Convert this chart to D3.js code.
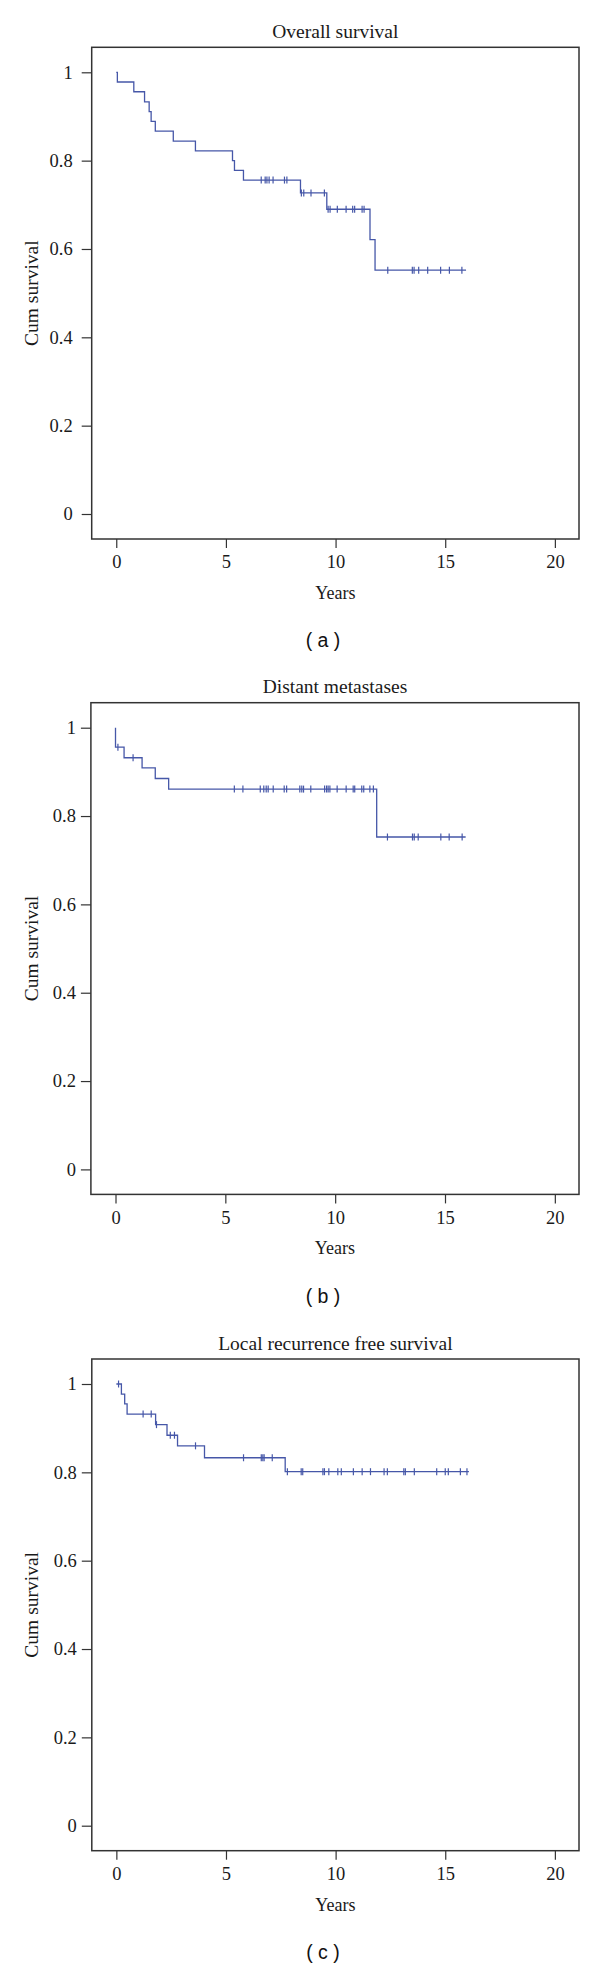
<!DOCTYPE html>
<html>
<head>
<meta charset="utf-8">
<script src="https://cdn.jsdelivr.net/npm/d3@7"></script>
<style>
  html, body { margin: 0; padding: 0; background: #fff; }
  svg { display: block; }
</style>
</head>
<body>
<svg id="chart" width="600" height="1968"></svg>
<script>
// ---------------- data ----------------
const xTicks = [0, 5, 10, 15, 20];
const yTicks = [0, 0.2, 0.4, 0.6, 0.8, 1];
const titles = ["Overall survival", "Distant metastases", "Local recurrence free survival"];
const panelLabels = ["( a )", "( b )", "( c )"];
const xLabel = "Years";
const yLabel = "Cum survival";

// (a) Overall survival
const osEventTimes = [0.05, 0.80, 1.29, 1.50, 1.59, 1.78, 2.60, 3.61, 5.30, 5.39, 5.80, 8.40, 9.60, 11.57, 11.80];
const osSurvival   = [0.978, 0.956, 0.933, 0.911, 0.889, 0.867, 0.844, 0.822, 0.800, 0.778, 0.756, 0.727, 0.690, 0.621, 0.552];
const osCensorTimes = [6.61, 6.79, 6.87, 6.97, 7.15, 7.67, 7.78, 8.44, 8.55, 8.88, 9.49, 9.66, 9.75, 10.08,
                       10.48, 10.78, 10.87, 11.21, 11.30, 12.38, 13.50, 13.58, 13.79, 14.20, 14.79, 15.19, 15.76];
const osEndTime = 15.95;

// (b) Distant metastases
const dmEventTimes = [0.0, 0.39, 1.21, 1.81, 2.42, 11.89];
const dmSurvival   = [0.956, 0.932, 0.909, 0.885, 0.861, 0.7525];
const dmCensorTimes = [0.11, 0.80, 5.41, 5.80, 6.59, 6.75, 6.86, 6.95, 7.18, 7.68, 7.79, 8.39, 8.48, 8.56, 8.89,
                       9.52, 9.61, 9.68, 9.76, 10.09, 10.50, 10.82, 10.89, 11.21, 11.30, 11.58, 11.74,
                       12.38, 13.52, 13.60, 13.78, 14.81, 15.19, 15.78];
const dmEndTime = 15.94;

// (c) Local recurrence free survival
const lrEventTimes = [0.23, 0.38, 0.49, 1.79, 2.31, 2.79, 4.02, 7.70];
const lrSurvival   = [0.977, 0.955, 0.932, 0.908, 0.884, 0.860, 0.833, 0.8015];
const lrCensorTimes = [0.10, 1.22, 1.59, 1.83, 2.46, 2.65, 3.61, 5.80, 6.61, 6.68, 6.74, 7.11, 7.80, 8.43, 8.50,
                       9.42, 9.49, 9.69, 10.10, 10.26, 10.81, 11.21, 11.59, 12.21, 12.36, 13.11, 13.18,
                       13.59, 14.61, 15.00, 15.14, 15.69, 15.99];
const lrEndTime = 16.08;

const series = [
  {events: osEventTimes, surv: osSurvival, censor: osCensorTimes, end: osEndTime},
  {events: dmEventTimes, surv: dmSurvival, censor: dmCensorTimes, end: dmEndTime},
  {events: lrEventTimes, surv: lrSurvival, censor: lrCensorTimes, end: lrEndTime}
];

// ---------------- layout ----------------
const tick1Y = [72.3, 727.7, 1384];   // pixel y of value 1 in each panel
const unitPx = 441.7;                 // pixels per unit survival
const yPadPx = 25;                    // plot padding beyond [0,1]
const boxLeft = [91.7, 90.9, 91.8];
const boxRight = 579;
const yLabelPad = [9, 5, 5];
const curveColor = "#4657a8";
const serif = "'Liberation Serif', 'Times New Roman', serif";
const sans = "'Liberation Sans', Arial, sans-serif";

const svg = d3.select("#chart");

series.forEach((s, i) => {
  const top = tick1Y[i] - yPadPx;
  const bottom = tick1Y[i] + unitPx + yPadPx;
  const left = boxLeft[i];
  const y = d3.scaleLinear().domain([-yPadPx / unitPx, 1 + yPadPx / unitPx]).range([bottom, top]);
  const x = d3.scaleLinear().domain([-1.12, 21.1]).range([left, boxRight]);
  const g = svg.append("g");

  // Title
  g.append("text")
    .attr("x", (left + boxRight) / 2)
    .attr("y", tick1Y[i] - 34.5)
    .attr("text-anchor", "middle")
    .style("font-family", serif)
    .style("font-size", "19.5px")
    .attr("fill", "#1a1a1a")
    .text(titles[i]);

  // y axis
  const yAxis = g.append("g")
    .attr("transform", `translate(${left},0)`)
    .call(d3.axisLeft(y).tickValues(yTicks).tickSize(10).tickPadding(yLabelPad[i])
      .tickFormat(d => d3.format("~g")(d)));
  // x axis
  const xAxis = g.append("g")
    .attr("transform", `translate(0,${bottom})`)
    .call(d3.axisBottom(x).tickValues(xTicks).tickSize(9).tickPadding(7));

  [yAxis, xAxis].forEach(ax => {
    ax.select(".domain").remove();
    ax.selectAll(".tick line").attr("stroke", "#333").attr("stroke-width", 1.2);
    ax.selectAll(".tick text")
      .attr("fill", "#1a1a1a")
      .style("font-family", serif)
      .style("font-size", "18.5px");
  });

  // Box
  g.append("rect")
    .attr("x", left).attr("y", top)
    .attr("width", boxRight - left).attr("height", bottom - top)
    .attr("fill", "none").attr("stroke", "#333").attr("stroke-width", 1.5);

  // Axis titles
  g.append("text")
    .attr("x", (left + boxRight) / 2)
    .attr("y", bottom + 60)
    .attr("text-anchor", "middle")
    .style("font-family", serif).style("font-size", "18px")
    .attr("fill", "#1a1a1a")
    .text(xLabel);

  g.append("text")
    .attr("transform", `translate(38,${(top + bottom) / 2}) rotate(-90)`)
    .attr("text-anchor", "middle")
    .style("font-family", serif).style("font-size", "19.5px")
    .attr("fill", "#1a1a1a")
    .text(yLabel);

  // Panel label
  g.append("text")
    .attr("x", 323)
    .attr("y", tick1Y[i] + 574.9)
    .attr("text-anchor", "middle")
    .style("font-family", sans).style("font-size", "19.5px")
    .attr("fill", "#111")
    .text(panelLabels[i]);

  // Kaplan-Meier step curve
  const pts = [[0, 1]].concat(s.events.map((t, k) => [t, s.surv[k]]));
  pts.push([s.end, s.surv[s.surv.length - 1]]);
  const line = d3.line().x(d => x(d[0])).y(d => y(d[1])).curve(d3.curveStepAfter);
  g.append("path")
    .attr("d", line(pts))
    .attr("fill", "none")
    .attr("stroke", curveColor)
    .attr("stroke-width", 1.3);

  // survival value at a time (step lookup)
  const survAt = t => {
    let v = 1;
    s.events.forEach((et, k) => { if (et <= t) v = s.surv[k]; });
    return v;
  };

  // Censor marks
  g.selectAll(".censor")
    .data(s.censor)
    .join("line")
    .attr("class", "censor")
    .attr("x1", d => x(d)).attr("x2", d => x(d))
    .attr("y1", d => y(survAt(d)) - 3.5)
    .attr("y2", d => y(survAt(d)) + 3.5)
    .attr("stroke", curveColor)
    .attr("stroke-width", 1.2);
});
</script>
</body>
</html>
